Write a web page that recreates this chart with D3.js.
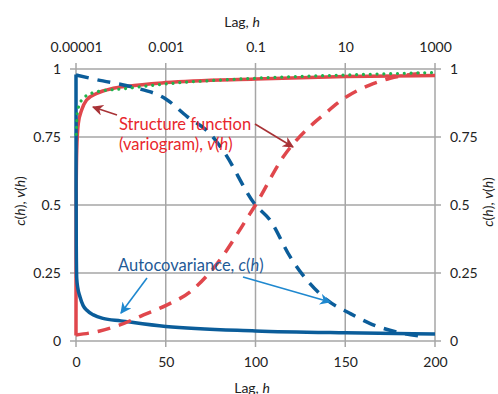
<!DOCTYPE html>
<html>
<head>
<meta charset="utf-8">
<script src="https://cdn.jsdelivr.net/npm/d3@7"></script>
<style>
  body { margin: 0; background: #fff; }
  svg { font-family: Lato, "Open Sans", sans-serif; }
</style>
</head>
<body>
<svg id="chart" width="498" height="394"></svg>
<script>
// linear lag axis (bottom), solid curves
var cLinH = [0, 0.05, 0.15, 0.4, 1, 2.2, 4, 5.9, 9.7, 15, 25, 50, 100, 150, 200];
var cLinV = [0.98, 0.55, 0.35, 0.23, 0.195, 0.163, 0.13, 0.114, 0.096, 0.083, 0.074, 0.053, 0.037, 0.030, 0.026];
var vLinH = [0, 0.02, 0.1, 0.4, 1.3, 3.2, 5.9, 11.5, 20.8, 29, 50, 100, 150, 200];
var vLinV = [0.02, 0.3, 0.55, 0.7, 0.80, 0.85, 0.886, 0.91, 0.929, 0.937, 0.95, 0.963, 0.972, 0.976];
var gLinH = [0.1, 0.3, 0.7, 2.2, 5, 9.7, 15, 24.5, 50, 100, 150, 200];
var gLinV = [0.76, 0.79, 0.837, 0.874, 0.898, 0.913, 0.92, 0.926, 0.945, 0.966, 0.978, 0.987];

// log lag axis (top), dashed curves
var cLogH = [1e-5, 3e-5, 1.9e-4, 1e-3, 3e-3, 0.01, 0.019, 0.1, 0.21, 0.59, 3.9, 12.6, 35, 195, 470];
var cLogV = [0.978, 0.96, 0.933, 0.89, 0.825, 0.76, 0.70, 0.5, 0.445, 0.31, 0.151, 0.102, 0.065, 0.028, 0.018];
var vLogH = [1e-5, 3.4e-5, 9.5e-5, 3.2e-4, 1.05e-3, 3.5e-3, 0.0115, 0.076, 0.1, 0.42, 1.95, 2.95, 10.7, 35, 100, 470];
var vLogV = [0.022, 0.037, 0.059, 0.096, 0.132, 0.181, 0.267, 0.469, 0.5, 0.678, 0.80, 0.825, 0.898, 0.941, 0.966, 0.984];

var bottomTicks = [0, 50, 100, 150, 200];
var topTicks = [1e-5, 1e-3, 0.1, 10, 1000];
var topTickLabels = ['0.00001', '0.001', '0.1', '10', '1000'];
var yTicks = [0, 0.25, 0.5, 0.75, 1];

(function() {
  var svg = d3.select('#chart');
  var pLeft = 76, pRight = 435, pTop = 69, pBottom = 341;

  var x = d3.scaleLinear().domain([0, 200]).range([pLeft, pRight]);
  var xLog = d3.scaleLog().domain([1e-5, 1000]).range([pLeft, pRight]);
  var y = d3.scaleLinear().domain([0, 1]).range([pBottom, pTop]);

  var gridColor = '#a6a6a6';

  // grid (also serves as the frame and the outward ticks)
  svg.append('g')
    .selectAll('line')
    .data(bottomTicks)
    .enter().append('line')
    .attr('x1', function(d) { return x(d); })
    .attr('x2', function(d) { return x(d); })
    .attr('y1', pTop - 6).attr('y2', pBottom + 6)
    .attr('stroke', gridColor).attr('stroke-width', 1.5);
  svg.append('g')
    .selectAll('line')
    .data(yTicks)
    .enter().append('line')
    .attr('x1', pLeft - 6).attr('x2', pRight + 6)
    .attr('y1', function(d) { return y(d); })
    .attr('y2', function(d) { return y(d); })
    .attr('stroke', gridColor).attr('stroke-width', 1.5);

  function styleAxis(g) {
    g.select('.domain').remove();
    g.selectAll('.tick line').remove();
    g.selectAll('text').attr('font-size', 14).attr('fill', '#222')
      .attr('font-family', 'Lato, sans-serif');
  }
  svg.append('g').attr('transform', 'translate(0,' + pBottom + ')')
    .call(d3.axisBottom(x).tickValues(bottomTicks).tickSize(0).tickPadding(16))
    .call(styleAxis);
  svg.append('g').attr('transform', 'translate(0,' + pTop + ')')
    .call(d3.axisTop(xLog).tickValues(topTicks).tickSize(0).tickPadding(17)
      .tickFormat(function(d, i) { return topTickLabels[i]; }))
    .call(styleAxis);
  svg.append('g').attr('transform', 'translate(' + pLeft + ',0)')
    .call(d3.axisLeft(y).tickValues(yTicks).tickSize(0).tickPadding(15)
      .tickFormat(function(d) { return d; }))
    .call(styleAxis);
  svg.append('g').attr('transform', 'translate(' + pRight + ',0)')
    .call(d3.axisRight(y).tickValues(yTicks).tickSize(0).tickPadding(15)
      .tickFormat(function(d) { return d; }))
    .call(styleAxis);

  // axis titles
  function lagTitle(tx, ty) {
    var t = svg.append('text').attr('x', tx).attr('y', ty)
      .attr('text-anchor', 'middle').attr('font-size', 14).attr('fill', '#222');
    t.append('tspan').text('Lag, ');
    t.append('tspan').attr('font-style', 'italic').text('h');
  }
  lagTitle(242, 27);
  lagTitle(252, 393);

  function yTitle(tx, ty) {
    var t = svg.append('text')
      .attr('transform', 'translate(' + tx + ',' + ty + ') rotate(-90)')
      .attr('text-anchor', 'middle').attr('font-size', 14).attr('fill', '#222');
    t.append('tspan').attr('font-style', 'italic').text('c');
    t.append('tspan').text('(');
    t.append('tspan').attr('font-style', 'italic').text('h');
    t.append('tspan').text('), ');
    t.append('tspan').attr('font-style', 'italic').text('v');
    t.append('tspan').text('(');
    t.append('tspan').attr('font-style', 'italic').text('h');
    t.append('tspan').text(')');
  }
  yTitle(25, 201);
  yTitle(493, 202);

  // curves
  function pairs(hs, vs) {
    return hs.map(function(h, i) { return [h, vs[i]]; });
  }
  var lineLin = d3.line()
    .x(function(d) { return x(d[0]); })
    .y(function(d) { return y(d[1]); })
    .curve(d3.curveMonotoneX);
  var lineLog = d3.line()
    .x(function(d) { return xLog(d[0]); })
    .y(function(d) { return y(d[1]); })
    .curve(d3.curveMonotoneX);

  var blue = '#0b5d9a', red = '#e0474c', green = '#1fb34c';

  svg.append('path').attr('d', lineLin(pairs(vLinH, vLinV)))
    .attr('fill', 'none').attr('stroke', red).attr('stroke-width', 3.5);
  svg.append('path').attr('d', lineLin(pairs(cLinH, cLinV)))
    .attr('fill', 'none').attr('stroke', blue).attr('stroke-width', 3.5);
  svg.append('path').attr('d', lineLog(pairs(cLogH, cLogV)))
    .attr('fill', 'none').attr('stroke', blue).attr('stroke-width', 3.5)
    .attr('stroke-dasharray', '13,9');
  svg.append('path').attr('d', lineLog(pairs(vLogH, vLogV)))
    .attr('fill', 'none').attr('stroke', red).attr('stroke-width', 3.5)
    .attr('stroke-dasharray', '13,9');
  svg.append('path').attr('d', lineLin(pairs(gLinH, gLinV)))
    .attr('fill', 'none').attr('stroke', green).attr('stroke-width', 3.2)
    .attr('stroke-linecap', 'round').attr('stroke-dasharray', '0.01,6.8');

  // annotations
  var defs = svg.append('defs');
  function marker(id, color) {
    defs.append('marker').attr('id', id)
      .attr('viewBox', '0 0 10 10').attr('refX', 9).attr('refY', 5)
      .attr('markerWidth', 7).attr('markerHeight', 7)
      .attr('markerUnits', 'strokeWidth').attr('orient', 'auto')
      .append('path').attr('d', 'M0,0 L10,5 L0,10 L3,5 z').attr('fill', color);
  }
  var darkRed = '#a83236', lightBlue = '#1f88cf';
  marker('arrRed', darkRed);
  marker('arrBlue', lightBlue);

  function arrow(x1, y1, x2, y2, color, id) {
    svg.append('line').attr('x1', x1).attr('y1', y1).attr('x2', x2).attr('y2', y2)
      .attr('stroke', color).attr('stroke-width', 1.6)
      .attr('marker-end', 'url(#' + id + ')');
  }
  arrow(117, 115, 93, 107, darkRed, 'arrRed');
  arrow(255, 124, 293, 147, darkRed, 'arrRed');
  arrow(147, 278, 121, 313, lightBlue, 'arrBlue');
  arrow(243, 277, 330, 302, lightBlue, 'arrBlue');

  var sf = svg.append('text').attr('x', 119).attr('y', 130)
    .attr('font-size', 16.5).attr('fill', '#e8262c');
  sf.append('tspan').text('Structure function');
  var sf2 = svg.append('text').attr('x', 119).attr('y', 150)
    .attr('font-size', 16.5).attr('fill', '#e8262c');
  sf2.append('tspan').text('(variogram), ');
  sf2.append('tspan').attr('font-style', 'italic').text('v');
  sf2.append('tspan').text('(');
  sf2.append('tspan').attr('font-style', 'italic').text('h');
  sf2.append('tspan').text(')');

  var ac = svg.append('text').attr('x', 118).attr('y', 271)
    .attr('font-size', 16.5).attr('fill', '#1f5a96');
  ac.append('tspan').text('Autocovariance, ');
  ac.append('tspan').attr('font-style', 'italic').text('c');
  ac.append('tspan').text('(');
  ac.append('tspan').attr('font-style', 'italic').text('h');
  ac.append('tspan').text(')');
}());
</script>
</body>
</html>
